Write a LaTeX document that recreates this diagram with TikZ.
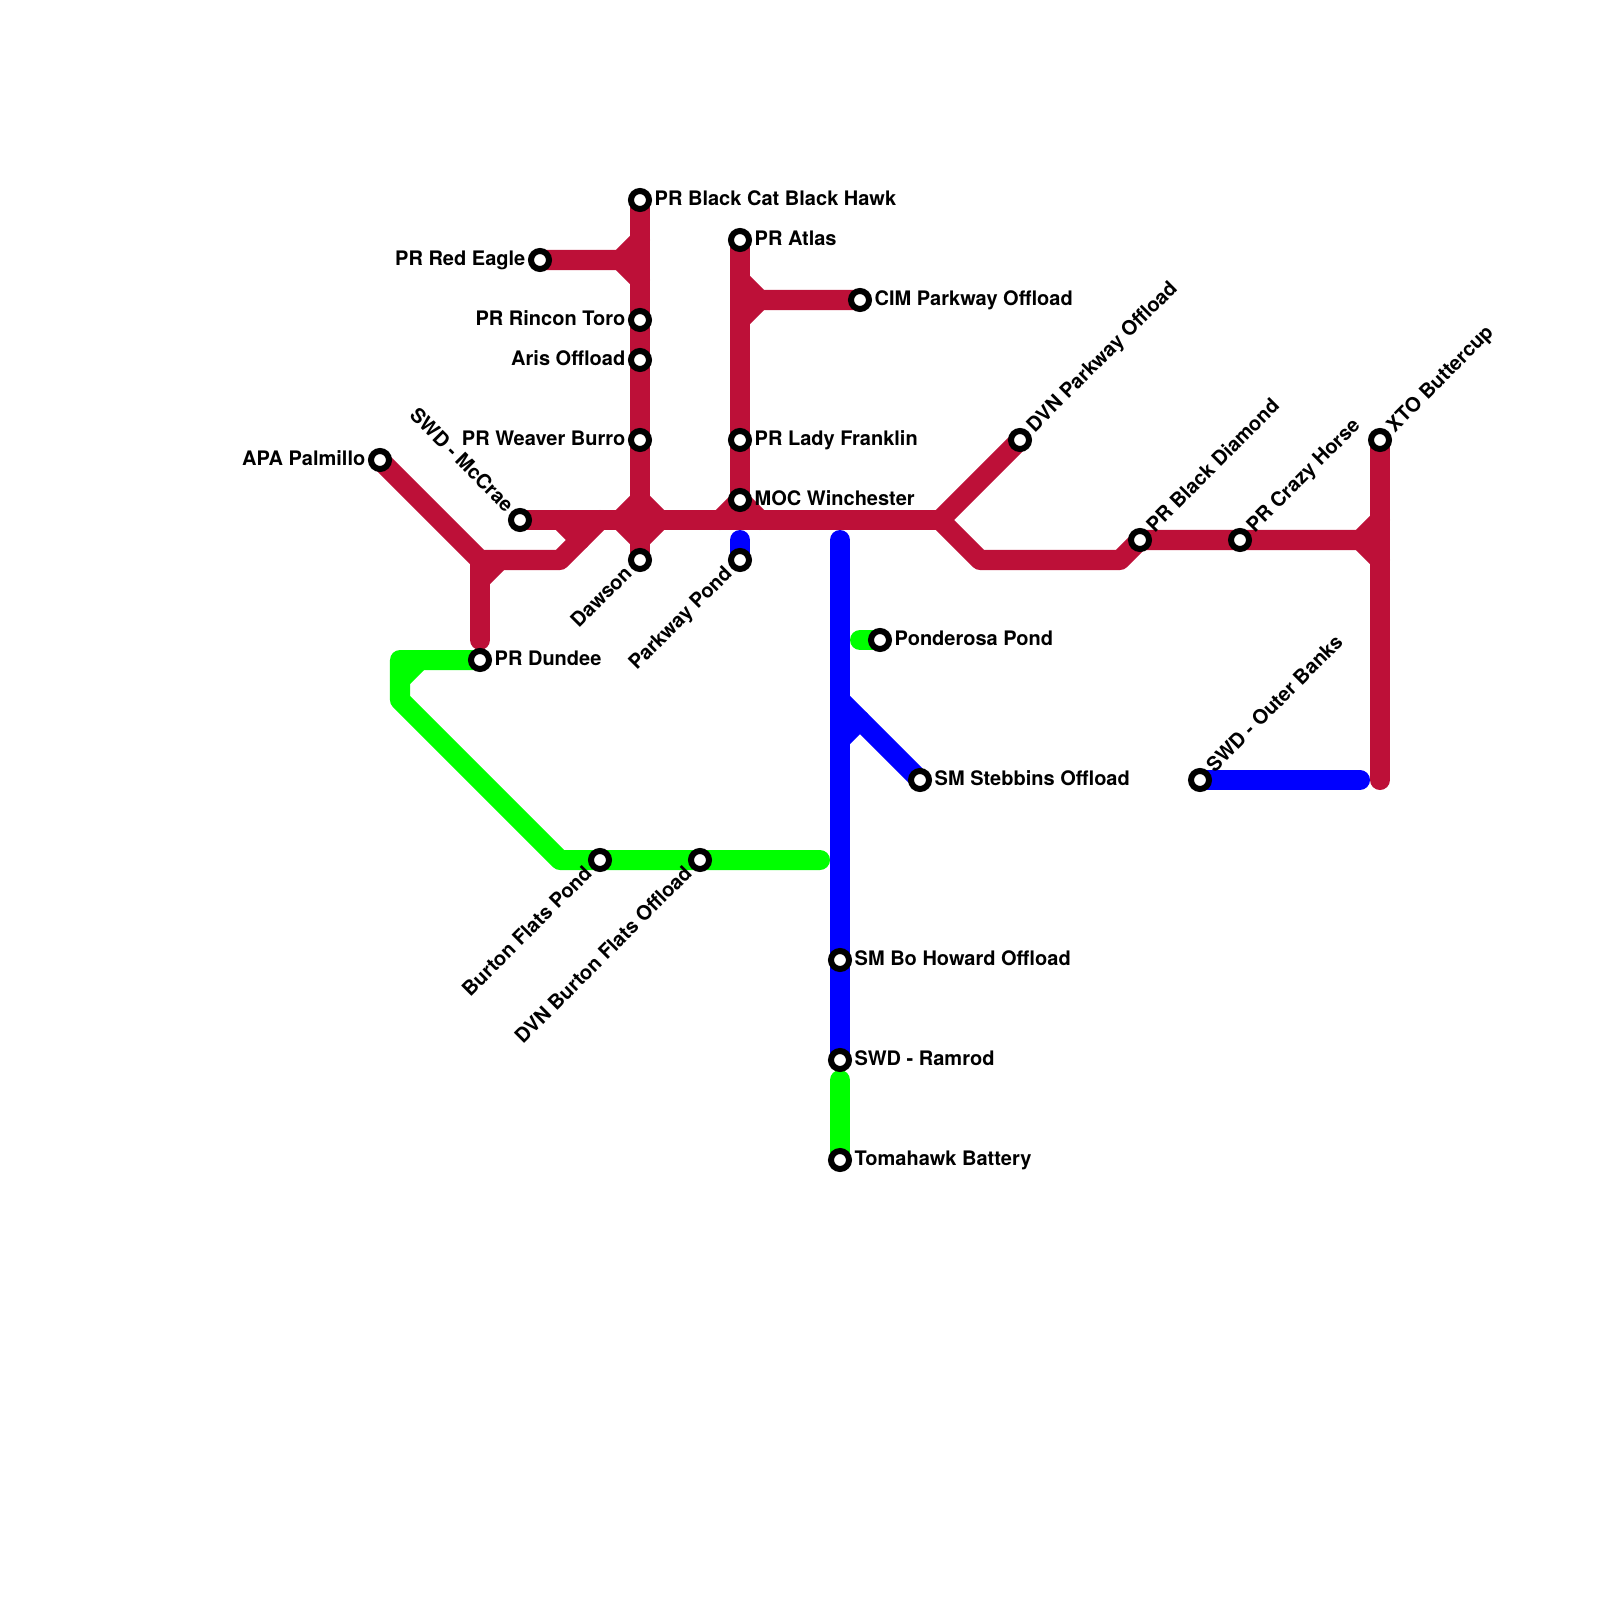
\documentclass[tikz,border=0pt]{standalone}
\usepackage{fontspec}
\setmainfont{TeX Gyre Heros}
\usetikzlibrary{positioning}
\usetikzlibrary{backgrounds}
\definecolor{linered}{HTML}{BD1038}
\definecolor{lineblue}{HTML}{0000FF}
\definecolor{linegreen}{HTML}{00FF00}
\tikzset{
    station/.style={circle, draw=black, fill=white, line width=0.06cm, minimum size=0.18cm, inner sep=0pt, outer sep=0pt},
    stationtext/.style={inner sep=0pt, text height=0.14cm, text depth=0.03cm, font=\bfseries\fontsize{5.69pt}{6.5pt}\selectfont},
    route/.style={line width=0.2cm, line cap=round, line join=round},
    redroute/.style={route, draw=linered},
    blueroute/.style={route, draw=lineblue},
    greenroute/.style={route, draw=linegreen}
}

\begin{document}
\begin{tikzpicture}[x=0.01cm, y=-0.01cm]
    \useasboundingbox (0, 0) rectangle (1600, 1600);

    \node [station] (blackcat) at (640, 200) {};
    \node [station] (atlas) at (740, 240) {};
    \node [station] (redeagle) at (540, 260) {};
    \node [station] (cim) at (860, 300) {};
    \node [station] (rincon) at (640, 320) {};
    \node [station] (aris) at (640, 360) {};
    \node [station] (weaver) at (640, 440) {};
    \node [station] (franklin) at (740, 440) {};
    \node [station] (dvnparkway) at (1020, 440) {};
    \node [station] (xto) at (1380, 440) {};
    \node [station] (palmillo) at (380, 460) {};
    \node [station] (winchester) at (740, 500) {};
    \node [station] (mccrae) at (520, 520) {};
    \node [station] (diamond) at (1140, 540) {};
    \node [station] (crazyhorse) at (1240, 540) {};
    \node [station] (dawson) at (640, 560) {};
    \node [station] (parkwaypond) at (740, 560) {};
    \node [station] (ponderosa) at (880, 640) {};
    \node [station] (dundee) at (480, 660) {};
    \node [station] (stebbins) at (920, 780) {};
    \node [station] (outerbanks) at (1200, 780) {};
    \node [station] (burtonpond) at (600, 860) {};
    \node [station] (dvnburton) at (700, 860) {};
    \node [station] (bohoward) at (840, 960) {};
    \node [station] (ramrod) at (840, 1060) {};
    \node [station] (tomahawk) at (840, 1160) {};

    \node [stationtext, right=0.05cm of blackcat] (blackcatname) {PR Black Cat Black Hawk};
    \node [stationtext, right=0.05cm of atlas] (atlasname) {PR Atlas};
    \node [stationtext, left=0.05cm of redeagle] (redeaglename) {PR Red Eagle};
    \node [stationtext, right=0.05cm of cim] (cimname) {CIM Parkway Offload};
    \node [stationtext, left=0.05cm of rincon] (rinconname) {PR Rincon Toro};
    \node [stationtext, left=0.05cm of aris] (arisname) {Aris Offload};
    \node [stationtext, left=0.05cm of weaver] (weavername) {PR Weaver Burro};
    \node [stationtext, right=0.05cm of franklin] (franklinname) {PR Lady Franklin};
    \node [stationtext, left=0.05cm of palmillo] (palmilloname) {APA Palmillo};
    \node [stationtext, right=0.05cm of winchester] (winchestername) {MOC Winchester};
    \node [stationtext, right=0.05cm of ponderosa] (ponderosaname) {Ponderosa Pond};
    \node [stationtext, right=0.05cm of dundee] (dundeename) {PR Dundee};
    \node [stationtext, right=0.05cm of stebbins] (stebbinsname) {SM Stebbins Offload};
    \node [stationtext, right=0.05cm of bohoward] (bohowardname) {SM Bo Howard Offload};
    \node [stationtext, right=0.05cm of ramrod] (ramrodname) {SWD - Ramrod};
    \node [stationtext, right=0.05cm of tomahawk] (tomahawkname) {Tomahawk Battery};

    \node [stationtext, above right=0.04cm and 0.04cm of dvnparkway, anchor=west, rotate=45] (dvnparkwayname) {DVN Parkway Offload};
    \node [stationtext, above right=0.04cm and 0.04cm of diamond, anchor=west, rotate=45] (diamondname) {PR Black Diamond};
    \node [stationtext, above right=0.04cm and 0.04cm of crazyhorse, anchor=west, rotate=45] (crazyhorsename) {PR Crazy Horse};
    \node [stationtext, above right=0.04cm and 0.04cm of xto, anchor=west, rotate=45] (xtoname) {XTO Buttercup};
    \node [stationtext, above right=0.04cm and 0.04cm of outerbanks, anchor=west, rotate=45] (outerbanksname) {SWD - Outer Banks};
    \node [stationtext, below left=0.04cm and 0.04cm of dawson, anchor=east, rotate=45] (dawsonname) {Dawson};
    \node [stationtext, below left=0.04cm and 0.04cm of parkwaypond, anchor=east, rotate=45] (parkwaypondname) {Parkway Pond};
    \node [stationtext, below left=0.04cm and 0.04cm of burtonpond, anchor=east, rotate=45] (burtonpondname) {Burton Flats Pond};
    \node [stationtext, below left=0.04cm and 0.04cm of dvnburton, anchor=east, rotate=45] (dvnburtonname) {DVN Burton Flats Offload};
    \node [stationtext, above left=0.04cm and 0.04cm of mccrae, anchor=east, rotate=-45] (mccraename) {SWD - McCrae};

    \coordinate (eaglejoint) at (620, 260);
    \coordinate (eagleup) at (640, 240);
    \coordinate (eagledown) at (640, 280);
    \coordinate (cimjoint) at (760, 300);
    \coordinate (cimup) at (740, 280);
    \coordinate (cimdown) at (740, 320);
    \coordinate (crossup) at (640, 500);
    \coordinate (crossdown) at (640, 540);
    \coordinate (crossleft) at (620, 520);
    \coordinate (crossright) at (660, 520);
    \coordinate (mocleft) at (720, 520);
    \coordinate (mocright) at (760, 520);
    \coordinate (mccraestub) at (560, 520);
    \coordinate (mccraestubend) at (580, 540);
    \coordinate (mainfork) at (940, 520);
    \coordinate (palmillobend) at (480, 560);
    \coordinate (palmillotail) at (560, 560);
    \coordinate (palmilloend) at (600, 520);
    \coordinate (dundeeend) at (480, 640);
    \coordinate (dundeebend) at (480, 580);
    \coordinate (dundeeup) at (500, 560);
    \coordinate (lowleft) at (980, 560);
    \coordinate (lowright) at (1120, 560);
    \coordinate (xtojoint) at (1360, 540);
    \coordinate (xtoup) at (1380, 520);
    \coordinate (xtodown) at (1380, 560);
    \coordinate (xtoend) at (1380, 780);
    \coordinate (greencorner) at (400, 660);
    \coordinate (greenleft) at (420, 660);
    \coordinate (greenmid) at (400, 680);
    \coordinate (greenlow) at (400, 700);
    \coordinate (greenbase) at (560, 860);
    \coordinate (greenend) at (820, 860);
    \coordinate (ponderosaend) at (860, 640);
    \coordinate (tomahawkend) at (840, 1080);
    \coordinate (bluetop) at (840, 540);
    \coordinate (bluejoint) at (840, 700);
    \coordinate (bluestub) at (860, 720);
    \coordinate (bluestubend) at (840, 740);
    \coordinate (parkwayend) at (740, 540);
    \coordinate (outerend) at (1360, 780);

    \begin{scope}[on background layer]
        \draw [redroute] (blackcat.center) -- (dawson.center);
        \draw [redroute] (atlas.center) -- (winchester.center);
        \draw [redroute] (redeagle.center) -- (eaglejoint) -- (eagleup);
        \draw [redroute] (eaglejoint) -- (eagledown);
        \draw [redroute] (cim.center) -- (cimjoint) -- (cimup);
        \draw [redroute] (cimjoint) -- (cimdown);
        \draw [redroute] (mccrae.center) -- (mainfork);
        \draw [redroute] (crossup) -- (crossleft) -- (crossdown) -- (crossright) -- cycle;
        \draw [redroute] (mocleft) -- (winchester.center) -- (mocright);
        \draw [redroute] (mccraestub) -- (mccraestubend);
        \draw [redroute] (palmillo.center) -- (palmillobend) -- (palmillotail) -- (palmilloend);
        \draw [redroute] (palmillobend) -- (dundeebend) -- (dundeeend);
        \draw [redroute] (dundeebend) -- (dundeeup);
        \draw [redroute] (mainfork) -- (dvnparkway.center);
        \draw [redroute] (mainfork) -- (lowleft) -- (lowright) -- (diamond.center) -- (xtojoint) -- (xtoup);
        \draw [redroute] (xtojoint) -- (xtodown);
        \draw [redroute] (xto.center) -- (xtoend);

        \draw [blueroute] (bluetop) -- (ramrod.center);
        \draw [blueroute] (bluejoint) -- (stebbins.center);
        \draw [blueroute] (bluestub) -- (bluestubend);
        \draw [blueroute] (parkwayend) -- (parkwaypond.center);
        \draw [blueroute] (outerbanks.center) -- (outerend);

        \draw [greenroute] (dundee.center) -- (greencorner) -- (greenlow) -- (greenbase) -- (greenend);
        \draw [greenroute] (greenleft) -- (greenmid);
        \draw [greenroute] (ponderosa.center) -- (ponderosaend);
        \draw [greenroute] (tomahawk.center) -- (tomahawkend);
    \end{scope}
\end{tikzpicture}
\end{document}
